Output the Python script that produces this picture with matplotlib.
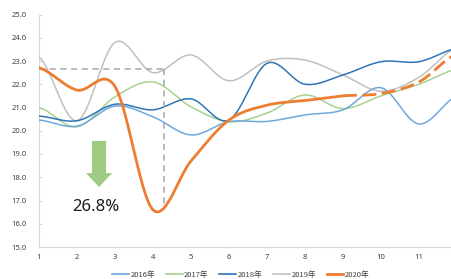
import numpy as np
import matplotlib
matplotlib.use("Agg")
import matplotlib.pyplot as plt
from matplotlib.patches import FancyArrow

plt.rcParams['font.family'] = ['Noto Sans', 'Noto Sans CJK SC', 'DejaVu Sans']

months = list(range(1, 13))
x_tick_labels = [str(m) for m in range(1, 12)]
y_ticks = [15.0, 16.0, 17.0, 18.0, 19.0, 20.0, 21.0, 22.0, 23.0, 24.0, 25.0]

y2016 = [20.46, 20.20, 21.06, 20.60, 19.82, 20.39, 20.40, 20.68, 20.90, 21.85, 20.29, 21.50]
y2017 = [21.00, 20.17, 21.46, 22.10, 21.03, 20.39, 20.76, 21.54, 20.95, 21.50, 22.00, 22.65]
y2018 = [20.63, 20.43, 21.14, 20.90, 21.37, 20.46, 22.90, 22.00, 22.40, 22.97, 22.97, 23.55]
y2019 = [23.18, 20.43, 23.80, 22.50, 23.26, 22.15, 23.00, 23.04, 22.40, 21.70, 22.30, 23.60]
y2020 = [22.71, 21.75, 21.90, 16.60, 18.70, 20.46, 21.10, 21.30, 21.50, 21.60, 22.10, 23.30]
actual_until = 9  # 2020 solid up to this month, dashed after

series_labels = ['2016年', '2017年', '2018年', '2019年', '2020年']
colors = ['#6FA8DC', '#A9D18E', '#2E75B6', '#C0C0C0', '#ED7D31']

ref_level = 22.66
ref_month = 4.28
drop_text = '26.8%'


def smooth(xs, ys, n=30):
    xs = np.asarray(xs, float)
    ys = np.asarray(ys, float)
    m = np.zeros_like(ys)
    m[1:-1] = (ys[2:] - ys[:-2]) / 2.0
    m[0] = (ys[1] - ys[0]) / 2.0
    m[-1] = (ys[-1] - ys[-2]) / 2.0
    ox, oy = [], []
    for i in range(len(xs) - 1):
        t = np.linspace(0, 1, n, endpoint=(i == len(xs) - 2))
        h00 = 2 * t**3 - 3 * t**2 + 1
        h10 = t**3 - 2 * t**2 + t
        h01 = -2 * t**3 + 3 * t**2
        h11 = t**3 - t**2
        oy.append(h00 * ys[i] + h10 * m[i] + h01 * ys[i + 1] + h11 * m[i + 1])
        ox.append(xs[i] + t * (xs[i + 1] - xs[i]))
    return np.concatenate(ox), np.concatenate(oy)


fig = plt.figure(figsize=(4.51, 2.79), dpi=100)
ax = fig.add_axes([39 / 451, 1 - 247 / 279, 1 - 39 / 451, (247 - 14.5) / 279])

for ys, c in zip([y2019, y2017, y2016, y2018], [colors[3], colors[1], colors[0], colors[2]]):
    sx, sy = smooth(months, ys)
    ax.plot(sx, sy, color=c, lw=1.1, solid_capstyle='round', zorder=3)

sx, sy = smooth(months, y2020)
solid = sx <= actual_until
ax.plot(sx[solid], sy[solid], color=colors[4], lw=2.0, zorder=5, solid_capstyle='round')
ax.plot(sx[sx >= actual_until], sy[sx >= actual_until], color=colors[4], lw=2.0, zorder=5,
        linestyle=(0, (5, 2)))

# reference dashed lines
ref_y = np.interp(ref_month, sx, sy)
ax.plot([1, ref_month], [ref_level, ref_level], color='#A6A6A6', lw=1.1, ls=(0, (4, 3)), zorder=4)
ax.plot([ref_month, ref_month], [ref_level, ref_y], color='#A6A6A6', lw=1.1, ls=(0, (4, 3)), zorder=4)

# arrow and label
arrow = FancyArrow(2.58, 19.56, 0, -1.98, width=0.37, head_width=0.69, head_length=0.60,
                   length_includes_head=True, color='#9FCC82', ec='none', zorder=6)
ax.add_patch(arrow)
ax.text(2.5, 16.72, drop_text, ha='center', va='center', fontsize=12, color='#1a1a1a', zorder=7)

ax.set_xlim(1, 1 + (451 - 39) / 38)
ax.set_ylim(15, 25)
ax.set_xticks(range(1, 12))
ax.set_xticklabels(x_tick_labels)
ax.set_yticks(y_ticks)
ax.set_yticklabels([f'{v:.1f}' for v in y_ticks])
ax.tick_params(axis='x', length=0, pad=5, labelsize=5.5, labelcolor='#404040')
ax.tick_params(axis='y', length=2, direction='in', color='#D9D9D9', pad=9, labelsize=5.5,
               labelcolor='#404040')
for s in ['top', 'right']:
    ax.spines[s].set_visible(False)
for s in ['left', 'bottom']:
    ax.spines[s].set_color('#D9D9D9')
    ax.spines[s].set_linewidth(0.8)

handles = []
for lab, c in zip(series_labels, colors):
    lw = 2.0 if lab == '2020年' else 1.2
    h, = ax.plot([], [], color=c, lw=lw, label=lab)
    handles.append(h)
fig.legend(handles=handles, loc='center', bbox_to_anchor=(0.534, 1 - 275 / 279), ncol=5,
           frameon=False, handlelength=2.2, handletextpad=0.2, columnspacing=1.4,
           labelcolor='#404040', prop={'family': ['Noto Sans CJK SC', 'DejaVu Sans'], 'size': 5.5})

fig.savefig('out.png', dpi=100)
